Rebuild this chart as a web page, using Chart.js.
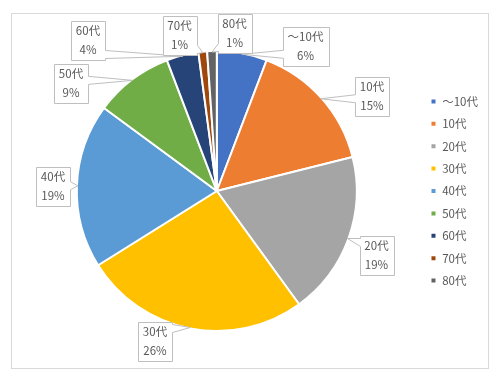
<!DOCTYPE html>
<html><head><meta charset="utf-8">
<script src="https://cdn.jsdelivr.net/npm/chart.js@4.4.1/dist/chart.umd.min.js"></script>
<style>html,body{margin:0;padding:0;background:#fff}#wrap{width:502px;height:382px;position:relative}</style>
</head><body><div id="wrap"><canvas id="c" width="502" height="382"></canvas></div>
<script>
const categories = ['～10代','10代','20代','30代','40代','50代','60代','70代','80代'];
const shares = [5.8, 15.3, 18.9, 26.1, 19.0, 9.1, 3.7, 1.0, 1.1];
const colors = ['#4472C4','#ED7D31','#A5A5A5','#FFC000','#5B9BD5','#70AD47','#264478','#9E480E','#636363'];
// callout box centres (layout only)
const calloutCenters = [[305.5,46],[372,96.5],[376.5,255.5],[155,341.5],[53,186],[71,83],[88,40.5],[179.5,35],[234.5,33]];

const FONT = '"Noto Sans CJK JP", "Noto Sans", sans-serif';
const TEXT = '#595959';

const framePlugin = {
  id: 'frame',
  beforeDraw(chart) {
    const ctx = chart.ctx;
    ctx.save();
    ctx.fillStyle = '#fff';
    ctx.fillRect(0,0,chart.width,chart.height);
    ctx.strokeStyle = '#d9d9d9';
    ctx.lineWidth = 1;
    ctx.strokeRect(11.5, 13.5, 477, 355);
    ctx.restore();
  }
};

const calloutPlugin = {
  id: 'callouts',
  afterDatasetsDraw(chart) {
    const ctx = chart.ctx;
    const meta = chart.getDatasetMeta(0);
    const data = chart.data.datasets[0].data;
    const total = data.reduce((a,b)=>a+b,0);
    ctx.save();
    ctx.font = '11.5px ' + FONT;
    meta.data.forEach((arc, i) => {
      const p = arc.getProps(['x','y','startAngle','endAngle','outerRadius'], true);
      const mid = (p.startAngle + p.endAngle) / 2;
      const tx = p.x + Math.cos(mid) * (p.outerRadius - 1);
      const ty = p.y + Math.sin(mid) * (p.outerRadius - 1);
      const l1 = chart.data.labels[i];
      const l2 = Math.round(data[i] / total * 100) + '%';
      const w = Math.round(Math.max(ctx.measureText(l1).width, ctx.measureText(l2).width) + 10);
      const h = 39;
      const [cx, cy] = calloutCenters[i];
      const L = Math.round(cx - w/2) + 0.5, T = Math.round(cy - h/2) + 0.5, R = L + w, B = T + h;
      const half = 4;
      const clamp = (v, a, b) => Math.max(a, Math.min(b, v));
      ctx.beginPath();
      ctx.moveTo(L, T);
      if (ty < T && tx >= L && tx <= R) {
        const m = clamp(tx, L + half + 2, R - half - 2);
        ctx.lineTo(m - half, T); ctx.lineTo(tx, ty); ctx.lineTo(m + half, T);
      }
      ctx.lineTo(R, T);
      if (tx > R) {
        const m = clamp(ty, T + half + 2, B - half - 2);
        ctx.lineTo(R, m - half); ctx.lineTo(tx, ty); ctx.lineTo(R, m + half);
      }
      ctx.lineTo(R, B);
      if (ty > B && tx >= L && tx <= R) {
        const m = clamp(tx, L + half + 2, R - half - 2);
        ctx.lineTo(m + half, B); ctx.lineTo(tx, ty); ctx.lineTo(m - half, B);
      }
      ctx.lineTo(L, B);
      if (tx < L) {
        const m = clamp(ty, T + half + 2, B - half - 2);
        ctx.lineTo(L, m + half); ctx.lineTo(tx, ty); ctx.lineTo(L, m - half);
      }
      ctx.closePath();
      ctx.fillStyle = '#fff';
      ctx.fill();
      ctx.strokeStyle = '#bfbfbf';
      ctx.lineWidth = 1;
      ctx.stroke();
      ctx.fillStyle = TEXT;
      ctx.textAlign = 'center';
      ctx.textBaseline = 'middle';
      ctx.fillText(l1, cx, cy - 9.5);
      ctx.fillText(l2, cx, cy + 9.5);
    });
    ctx.restore();
  }
};

new Chart(document.getElementById('c'), {
  type: 'pie',
  data: {
    labels: categories,
    datasets: [{
      data: shares,
      backgroundColor: colors,
      borderColor: '#ffffff',
      borderWidth: 2
    }]
  },
  options: {
    responsive: false,
    animation: false,
    layout: { padding: { left: 14, right: 14, top: 50, bottom: 50 } },
    plugins: {
      tooltip: { enabled: false },
      legend: {
        position: 'right',
        align: 'center',
        labels: {
          boxWidth: 6,
          boxHeight: 6,
          padding: 10.9,
          color: TEXT,
          font: { family: FONT, size: 11.5 }
        }
      }
    }
  },
  plugins: [framePlugin, calloutPlugin]
});
</script>
</body></html>
